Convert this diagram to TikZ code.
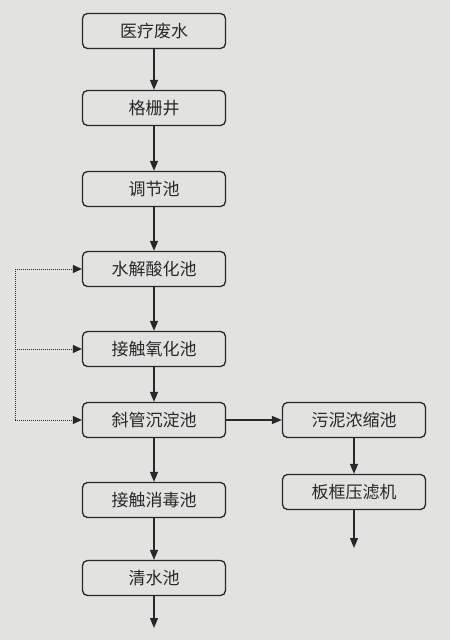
\documentclass[tikz,border=0pt]{standalone}
\usepackage{fontspec}
\setmainfont{Noto Sans CJK SC}
\usetikzlibrary{arrows.meta}
\definecolor{paper}{RGB}{226,226,224}
\definecolor{ink}{RGB}{40,40,40}

\begin{document}
\begin{tikzpicture}[x=1pt,y=-1pt,
  pool/.style={draw=ink,line width=1.3pt,rounded corners=5pt,minimum width=143pt,minimum height=35pt,inner sep=0pt,text=ink,font=\fontsize{17pt}{17pt}\selectfont},
  flow/.style={draw=ink,line width=1.4pt,-{Triangle[length=10pt,width=8pt]}},
  back/.style={draw=ink,line width=1pt,densely dotted,-{Triangle[length=9pt,width=8pt]}}]
%background
\fill[paper] (0,0) rectangle (450,640);
%main line
\node[pool] (ww) at (154,31) {医疗废水};
\node[pool] (grid) at (154,108) {格栅井};
\node[pool] (adj) at (154,189) {调节池};
\node[pool] (hyd) at (154,269) {水解酸化池};
\node[pool] (oxi) at (154,349) {接触氧化池};
\node[pool] (sed) at (154,420) {斜管沉淀池};
\node[pool] (dis) at (154,500) {接触消毒池};
\node[pool] (clr) at (154,578) {清水池};
%sludge line
\node[pool] (thk) at (354,420) {污泥浓缩池};
\node[pool] (prs) at (354,492) {板框压滤机};
\coordinate (out) at (154,628);
\coordinate (cake) at (354,548);
\coordinate (fb) at (15,0);
%arrows
\draw[flow] (ww) -- (grid);
\draw[flow] (grid) -- (adj);
\draw[flow] (adj) -- (hyd);
\draw[flow] (hyd) -- (oxi);
\draw[flow] (oxi) -- (sed);
\draw[flow] (sed) -- (dis);
\draw[flow] (dis) -- (clr);
\draw[flow] (clr) -- (out);
\draw[flow] (sed) -- (thk);
\draw[flow] (thk) -- (prs);
\draw[flow] (prs) -- (cake);
%return line
\draw[draw=ink,line width=1pt,densely dotted] (fb |- hyd) -- (fb |- sed);
\draw[back] (fb |- hyd) -- (hyd);
\draw[back] (fb |- oxi) -- (oxi);
\draw[back] (fb |- sed) -- (sed);
\end{tikzpicture}
\end{document}
